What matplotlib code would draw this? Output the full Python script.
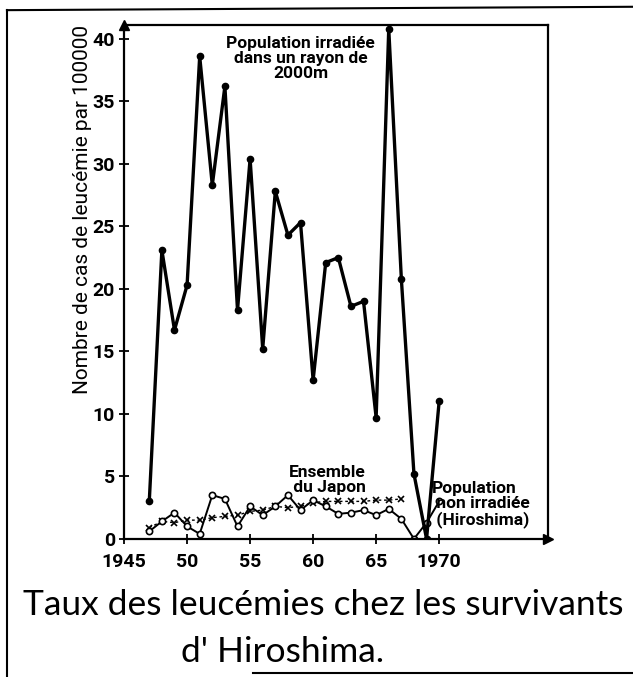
import matplotlib.pyplot as plt
from matplotlib.lines import Line2D

# data
years_irr = list(range(1947, 1971))
rate_irr = [3.0, 23.1, 16.7, 20.3, 38.6, 28.3, 36.2, 18.3, 30.4, 15.2, 27.8, 24.3,
            25.3, 12.7, 22.1, 22.5, 18.6, 19.0, 9.7, 40.8, 20.8, 5.2, 0.0, 11.0]

years_hiro = list(range(1947, 1971))
rate_hiro = [0.6, 1.4, 2.1, 1.0, 0.4, 3.5, 3.2, 1.0, 2.6, 1.9, 2.6, 3.5,
             2.3, 3.1, 2.6, 2.0, 2.1, 2.3, 1.9, 2.4, 1.6, 0.0, 1.3, 3.0]

years_japan = list(range(1947, 1968))
rate_japan = [0.9, 1.4, 1.3, 1.5, 1.5, 1.7, 1.8, 1.9, 2.2, 2.3, 2.6,
              2.5, 2.6, 2.9, 3.0, 3.0, 3.0, 3.0, 3.1, 3.1, 3.2]

x_ticks = [1945, 1950, 1955, 1960, 1965, 1970]
x_tick_labels = ["1945", "50", "55", "60", "65", "1970"]
y_ticks = [0, 5, 10, 15, 20, 25, 30, 35, 40]
y_tick_labels = ["0", "5", "10", "15", "20", "25", "30", "35", "40"]

plt.rcParams["font.family"] = ["Roboto", "DejaVu Sans"]

fig = plt.figure(figsize=(6.33, 6.77), dpi=100)
ax = fig.add_axes([0.196, 0.204, 0.67, 0.759])

ax.plot(years_japan, rate_japan, color="black", linestyle=(0, (2, 2)), linewidth=1.0,
        marker="x", markersize=4, markeredgewidth=1.2)
ax.plot(years_hiro, rate_hiro, color="black", linewidth=1.4,
        marker="o", markersize=4.5, markerfacecolor="white", markeredgewidth=1.2)
ax.plot(years_irr, rate_irr, color="black", linewidth=2.4,
        marker="o", markersize=4.5)

ax.set_xlim(1945, 1978.65)
ax.set_ylim(0, 41.1)
ax.set_xticks(x_ticks)
ax.set_xticklabels(x_tick_labels)
ax.set_yticks(y_ticks)
ax.set_yticklabels(y_tick_labels)
ax.tick_params(direction="inout", length=7, width=1.3, labelsize=14, pad=3)
ax.tick_params(axis="x", pad=7)
for lab in ax.get_xticklabels() + ax.get_yticklabels():
    lab.set_fontweight("bold")

for spine in ax.spines.values():
    spine.set_linewidth(1.6)

# arrow heads on the two axes
ax.plot(1, 0, marker=">", color="black", markersize=7, transform=ax.transAxes, clip_on=False)
ax.plot(0, 1, marker="^", color="black", markersize=7, transform=ax.transAxes, clip_on=False)

ax.set_ylabel("Nombre de cas de leucémie par 100000", fontsize=15)
ax.yaxis.set_label_coords(-0.075, 0.642)

ax.text(1959.0, 40.2, "Population irradiée\ndans un rayon de\n2000m", ha="center", va="top",
        fontsize=12.5, fontweight="bold", linespacing=1.0)
ax.text(1958.1, 3.5, "Ensemble\n du Japon", ha="left", va="bottom",
        fontsize=12.5, fontweight="bold", linespacing=1.0)
ax.text(1969.4, 0.9, "Population\n non irradiée\n (Hiroshima)", ha="left", va="bottom",
        fontsize=12.5, fontweight="bold", linespacing=1.0)

# hand-written caption
fig.text(0.511, 0.106, "Taux des leucémies chez les survivants", ha="center", va="center",
         fontsize=25.5, family=["Lato", "DejaVu Sans"])
fig.text(0.446, 0.037, "d' Hiroshima.", ha="center", va="center",
         fontsize=25.5, family=["Lato", "DejaVu Sans"])

# scanned page frame
fig.add_artist(Line2D([0.011, 0.011], [0.0, 0.985], color="black", linewidth=1.5))
fig.add_artist(Line2D([0.011, 1.0], [0.985, 0.99], color="black", linewidth=1.5))
fig.add_artist(Line2D([0.40, 1.0], [0.006, 0.006], color="black", linewidth=1.5))

fig.savefig("out.png", dpi=100)
